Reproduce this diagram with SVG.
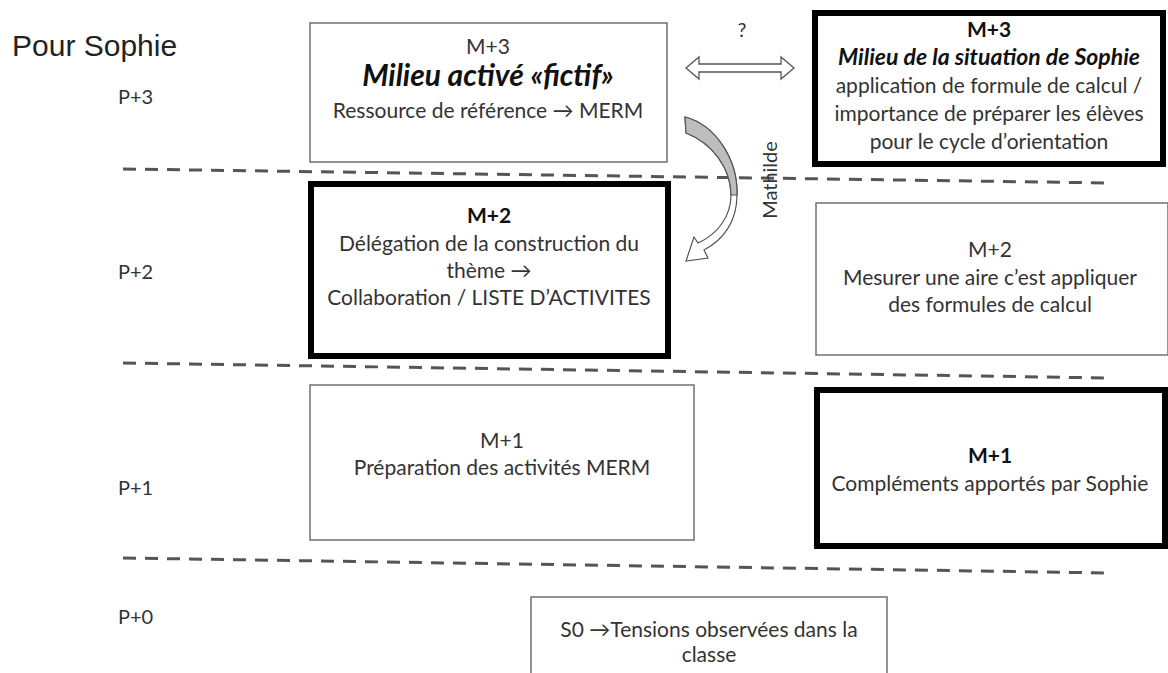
<svg xmlns="http://www.w3.org/2000/svg" width="1168" height="673" viewBox="0 0 1168 673">
<style>
.t{font-family:Lato,"Open Sans","Liberation Sans",sans-serif;font-size:21px;fill:#333;text-anchor:middle}
.b{font-weight:bold;fill:#111}
.bi{font-weight:bold;font-style:italic;fill:#111;font-size:23px}
.big{font-size:30px}
.lbl{font-family:Lato,"Open Sans","Liberation Sans",sans-serif;font-size:20px;fill:#333}
.thin{fill:#fff;stroke:#707070;stroke-width:1.5}
.thick{fill:#fff;stroke:#000;stroke-width:6}
.dash{stroke:#555;stroke-width:3;stroke-dasharray:13,9;fill:none}
</style>
<rect width="1168" height="673" fill="#fff"/>
<text x="12" y="56" font-family="Liberation Sans,Arial,sans-serif" font-size="30" fill="#222">Pour Sophie</text>
<text class="lbl" x="118" y="104">P+3</text>
<text class="lbl" x="118" y="279">P+2</text>
<text class="lbl" x="118" y="495">P+1</text>
<text class="lbl" x="118" y="624">P+0</text>
<g id="separators">
<line class="dash" x1="123" y1="169" x2="1110" y2="183"/>
<line class="dash" x1="123" y1="363" x2="1110" y2="378"/>
<line class="dash" x1="123" y1="558" x2="1110" y2="573"/>
</g>
<g id="m3-left">
<rect class="thin" x="310" y="23" width="357" height="139"/>
<text class="t" x="488" y="54">M+3</text>
<text class="t bi big" x="488" y="86">Milieu activé «fictif»</text>
<text class="t" x="488" y="118">Ressource de référence → MERM</text>
</g>
<g id="m3-right">
<rect class="thick" x="815" y="13" width="348" height="151"/>
<text class="t b" x="989" y="37">M+3</text>
<text class="t bi" x="989" y="65">Milieu de la situation de Sophie</text>
<text class="t" x="989" y="93">application de formule de calcul /</text>
<text class="t" x="989" y="121">importance de préparer les élèves</text>
<text class="t" x="989" y="149">pour le cycle d’orientation</text>
</g>
<g id="m2-left">
<rect class="thick" x="311" y="184" width="357" height="172"/>
<text class="t b" x="489" y="223">M+2</text>
<text class="t" x="489" y="251">Délégation de la construction du</text>
<text class="t" x="489" y="278">thème →</text>
<text class="t" x="489" y="305">Collaboration / LISTE D’ACTIVITES</text>
</g>
<g id="m2-right">
<rect class="thin" x="816" y="203" width="352" height="152"/>
<text class="t" x="990" y="257">M+2</text>
<text class="t" x="990" y="285">Mesurer une aire c’est appliquer</text>
<text class="t" x="990" y="312">des formules de calcul</text>
</g>
<g id="m1-left">
<rect class="thin" x="310" y="385" width="384" height="155"/>
<text class="t" x="502" y="448">M+1</text>
<text class="t" x="502" y="475">Préparation des activités MERM</text>
</g>
<g id="m1-right">
<rect class="thick" x="817" y="390" width="348" height="156"/>
<text class="t b" x="990" y="463">M+1</text>
<text class="t" x="990" y="491">Compléments apportés par Sophie</text>
</g>
<g id="s0">
<rect class="thin" x="531" y="597" width="356" height="90"/>
<text class="t" x="709" y="637">S0 →Tensions observées dans la</text>
<text class="t" x="709" y="662">classe</text>
</g>
<g id="connectors">
<text class="lbl" x="742" y="37" text-anchor="middle">?</text>
<path d="M686,68 L699,57 L699,64 L781,64 L781,57 L794,68 L781,79 L781,72 L699,72 L699,79 Z" fill="#fff" stroke="#555" stroke-width="1.3"/>
<path d="M685,117 C716,125 738,160 737,195 C737,222 723,240 704,250 L708,258 L686,261 L694,237 L698,243 C718,234 731,216 731,195 C731,168 712,143 686,133 Z" fill="#fff" stroke="#555" stroke-width="1.2"/>
<path d="M685,117 C716,125 738,160 737,195 L731,195 C731,168 712,143 686,133 Z" fill="#bdbdbd" stroke="#555" stroke-width="1.2"/>
<text class="lbl" transform="translate(777,180) rotate(-90)" text-anchor="middle">Mathilde</text>
</g>
</svg>
